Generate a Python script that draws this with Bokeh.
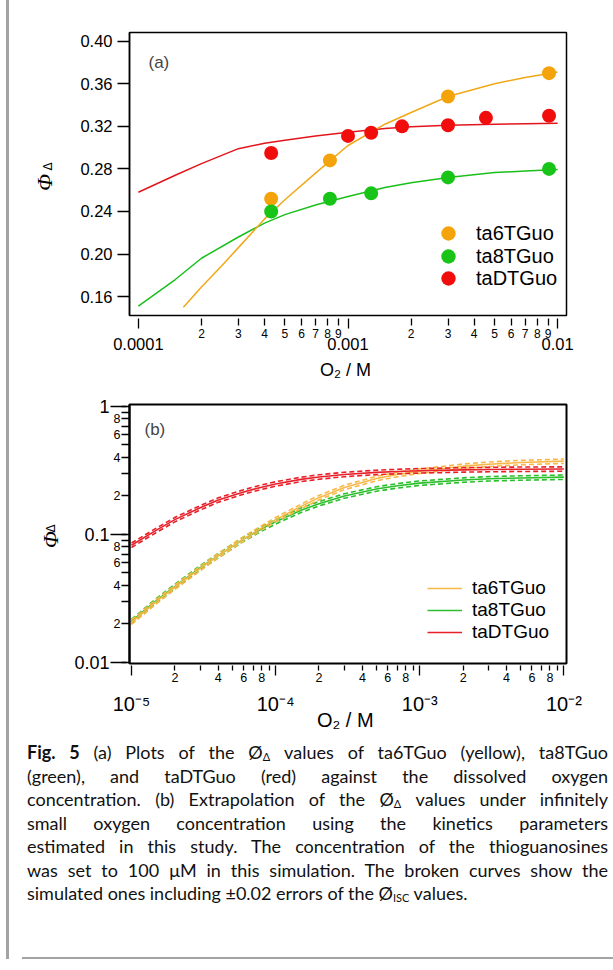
from bokeh.plotting import figure
from bokeh.models import (FixedTicker, LogAxis, LinearAxis, Label, Legend, LegendItem, Div,
                          CustomJSTickFormatter)
from bokeh.layouts import column, row
from bokeh.embed import file_html
from bokeh.resources import INLINE

# ---------------- data: panel (a) ----------------
ta6_x = [4.3e-4, 8.2e-4, 3.0e-3, 9.1e-3]
ta6_y = [0.252, 0.288, 0.348, 0.370]
ta8_x = [4.3e-4, 8.2e-4, 1.29e-3, 3.0e-3, 9.1e-3]
ta8_y = [0.240, 0.252, 0.257, 0.272, 0.280]
taD_x = [4.3e-4, 1.0e-3, 1.29e-3, 1.81e-3, 3.0e-3, 4.55e-3, 9.1e-3]
taD_y = [0.295, 0.311, 0.314, 0.320, 0.321, 0.328, 0.330]

fit_x_a = [1.0e-4, 1.5e-4, 2.0e-4, 3.0e-4, 4.0e-4, 5.0e-4, 7.0e-4, 1.0e-3, 1.5e-3, 2.0e-3, 3.0e-3, 5.0e-3, 7.0e-3, 1.0e-2]
fit_taD_a = [0.258, 0.274, 0.285, 0.299, 0.304, 0.307, 0.311, 0.3145, 0.318, 0.3195, 0.321, 0.322, 0.3225, 0.323]
fit_ta8_a = [0.151, 0.176, 0.196, 0.216, 0.229, 0.237, 0.246, 0.254, 0.2625, 0.267, 0.272, 0.2765, 0.278, 0.2795]
fit6_x_a = [1.64e-4, 2.0e-4, 2.5e-4, 3.0e-4, 4.0e-4, 5.0e-4, 7.0e-4, 1.0e-3, 1.5e-3, 2.0e-3, 3.0e-3, 5.0e-3, 7.0e-3, 1.0e-2]
fit_ta6_a = [0.150, 0.169, 0.189, 0.206, 0.233, 0.251, 0.276, 0.302, 0.322, 0.333, 0.348, 0.360, 0.366, 0.371]

# ---------------- data: panel (b) ----------------
x_b = [1e-5, 1.5e-5, 2e-5, 3e-5, 4e-5, 6e-5, 8e-5, 1e-4, 1.5e-4, 2e-4, 3e-4, 5e-4, 7e-4, 1e-3, 2e-3, 3e-3, 5e-3, 1e-2]
ta6_b = [0.0205, 0.030, 0.0385, 0.054, 0.068, 0.092, 0.112, 0.130, 0.165, 0.193, 0.232, 0.272, 0.293, 0.311, 0.340, 0.352, 0.363, 0.372]
ta6_b_hi = [0.0213, 0.0312, 0.0400, 0.0562, 0.0707, 0.0957, 0.1165, 0.1352, 0.1716, 0.2007, 0.2413, 0.2829, 0.3047, 0.3234, 0.3536, 0.3661, 0.3775, 0.3869]
ta6_b_lo = [0.0197, 0.0288, 0.0370, 0.0518, 0.0653, 0.0883, 0.1075, 0.1248, 0.1584, 0.1853, 0.2227, 0.2611, 0.2813, 0.2986, 0.3264, 0.3379, 0.3485, 0.3571]
ta8_b = [0.0208, 0.0305, 0.039, 0.0548, 0.068, 0.0915, 0.110, 0.125, 0.154, 0.173, 0.199, 0.2255, 0.239, 0.2505, 0.265, 0.271, 0.275, 0.279]
ta8_b_hi = [0.0216, 0.0317, 0.0406, 0.0570, 0.0707, 0.0952, 0.1144, 0.130, 0.160, 0.180, 0.207, 0.2345, 0.2486, 0.2605, 0.2756, 0.2818, 0.286, 0.290]
ta8_b_lo = [0.0200, 0.0293, 0.0374, 0.0526, 0.0653, 0.0878, 0.1056, 0.120, 0.1478, 0.1661, 0.1910, 0.2165, 0.2294, 0.2405, 0.2544, 0.2602, 0.264, 0.2678]
taD_b = [0.082, 0.108, 0.130, 0.161, 0.185, 0.214, 0.233, 0.247, 0.268, 0.280, 0.293, 0.304, 0.309, 0.313, 0.318, 0.320, 0.322, 0.323]
taD_b_hi = [0.0853, 0.1123, 0.1352, 0.1674, 0.1924, 0.2226, 0.2423, 0.2569, 0.2787, 0.2912, 0.3047, 0.3162, 0.3214, 0.3255, 0.3307, 0.3328, 0.3349, 0.3359]
taD_b_lo = [0.0787, 0.1037, 0.1248, 0.1546, 0.1776, 0.2054, 0.2237, 0.2371, 0.2573, 0.2688, 0.2813, 0.2918, 0.2966, 0.3005, 0.3053, 0.3072, 0.3091, 0.3101]

series_names = ["ta6TGuo", "ta8TGuo", "taDTGuo"]

# ---------------- ticks ----------------
a_y_ticks = [0.16, 0.20, 0.24, 0.28, 0.32, 0.36, 0.40]
a_y_labels = ["0.16", "0.20", "0.24", "0.28", "0.32", "0.36", "0.40"]
a_dec_ticks = [1e-4, 1e-3, 1e-2]
a_dec_labels = ["0.0001", "0.001", "0.01"]
a_minor_mult = [2, 3, 4, 5, 6, 7, 8, 9]
a_minor_labels = ["2", "3", "4", "5", "6", "7", "8", "9"]

b_x_dec_ticks = [1e-5, 1e-4, 1e-3, 1e-2]
b_x_dec_labels = ["10\u207b\u2075", "10\u207b\u2074", "10\u207b\u00b3", "10\u207b\u00b2"]
b_y_dec_ticks = [0.01, 0.1, 1.0]
b_y_dec_labels = ["0.01", "0.1", "1"]
b_minor_mult = [2, 3, 4, 5, 6, 7, 8, 9]
b_minor_labels = ["2", "", "4", "", "6", "", "8", ""]

y_title = "\u03a6"
y_title_sub = "\u0394"

FONT = "Liberation Sans"
NB = "\u00a0"
C6a, C8a, CDa = "#f5a30a", "#18c418", "#f20d0d"
L6a, L8a, LDa = "#f0a818", "#1bbf1b", "#e3151c"
C6b, C8b, CDb = "#f8b848", "#2cbf2c", "#e8202a"

LOOKUP = """
for (let i = 0; i < tks.length; i++) {
  if (Math.abs(tks[i] - tick) <= 1e-9 * Math.abs(tks[i])) { return labs[i]; }
}
return "";
"""


def fmt(tick_list, label_list):
    return CustomJSTickFormatter(args=dict(tks=list(tick_list), labs=list(label_list)), code=LOOKUP)


def minor_positions(decades, mults, labels):
    ticks, labs = [], []
    for d in decades:
        for m, lab in zip(mults, labels):
            ticks.append(m * d)
            labs.append(lab)
    return ticks, labs


def base_style(p, lw):
    p.grid.visible = False
    p.outline_line_color = "black"
    p.outline_line_width = lw
    p.outline_line_alpha = 1.0
    p.background_fill_color = "white"
    p.border_fill_color = "white"


def plain_axis(ax, size="1px"):
    ax.axis_line_color = None
    ax.major_tick_line_color = "black"
    ax.major_tick_line_width = 1.3
    ax.minor_tick_line_color = "black"
    ax.minor_tick_line_width = 1.3
    ax.major_label_text_font = FONT
    ax.major_label_text_font_size = size
    ax.major_label_text_color = "black"
    ax.axis_label_text_font = FONT
    ax.axis_label_text_font_style = "normal"
    ax.axis_label_text_color = "black"


def label_axis(ticks, labels, size, standoff, cls=LogAxis):
    ax = cls(ticker=FixedTicker(ticks=ticks, minor_ticks=[]), formatter=fmt(ticks, labels))
    plain_axis(ax, size)
    ax.major_tick_line_color = None
    ax.minor_tick_line_color = None
    ax.major_tick_in = 0
    ax.major_tick_out = 0
    ax.minor_tick_in = 0
    ax.minor_tick_out = 0
    ax.major_label_standoff = standoff
    return ax


def title_axis(text, font, size, style, standoff, cls):
    ax = label_axis([], [], "1px", 0, cls)
    ax.axis_label = text
    ax.axis_label_text_font = font
    ax.axis_label_text_font_size = size
    ax.axis_label_text_font_style = style
    ax.axis_label_standoff = standoff
    return ax


# ======================= panel (a) =======================
pa = figure(width=603, height=388, x_axis_type="log",
            x_range=(10 ** -4.0423, 10 ** -1.9577), y_range=(0.1422, 0.4082),
            output_backend="svg", toolbar_location=None,
            min_border_left=120, min_border_right=39, min_border_top=32, min_border_bottom=73)
base_style(pa, 1.5)

a_min_t, a_min_l = minor_positions(a_dec_ticks[:-1], a_minor_mult, a_minor_labels)

xa1 = pa.xaxis[0]
xa1.ticker = FixedTicker(ticks=a_dec_ticks, minor_ticks=a_min_t)
xa1.formatter = fmt([], [])
plain_axis(xa1)
xa1.major_tick_in = -3
xa1.major_tick_out = 13
xa1.minor_tick_in = -3
xa1.minor_tick_out = 10
xa1.major_label_standoff = 0

xa2 = label_axis(a_min_t, a_min_l, "12px", 0)
pa.add_layout(xa2, "below")
xa3 = label_axis(a_dec_ticks, a_dec_labels, "16.5px", -3)
xa3.axis_label = "O\u2082 /  M"
xa3.axis_label_text_font_size = "18px"
xa3.axis_label_standoff = 7
pa.add_layout(xa3, "below")

ya = pa.yaxis[0]
ya.ticker = FixedTicker(ticks=a_y_ticks, minor_ticks=[])
ya.formatter = fmt(a_y_ticks, a_y_labels)
plain_axis(ya, "16.5px")
ya.axis_line_color = "black"
ya.axis_line_width = 1.5
ya.major_tick_in = 0
ya.major_tick_out = 12
ya.minor_tick_out = 0
ya.major_label_standoff = 5
ya.axis_label = None

pa.add_layout(title_axis(NB * 4 + y_title_sub, "DejaVu Sans", "12px", "normal", 23, LinearAxis), "left")
pa.add_layout(title_axis(y_title + NB * 3, "Liberation Serif", "22px", "italic", -19, LinearAxis), "left")

pa.line(fit_x_a, fit_taD_a, color=LDa, line_width=1.5)
pa.line(fit_x_a, fit_ta8_a, color=L8a, line_width=1.5)
pa.line(fit6_x_a, fit_ta6_a, color=L6a, line_width=1.5)
r6 = pa.scatter(ta6_x, ta6_y, size=14, color=C6a, line_color=None)
r8 = pa.scatter(ta8_x, ta8_y, size=14, color=C8a, line_color=None)
rD = pa.scatter(taD_x, taD_y, size=14, color=CDa, line_color=None)

for rend, name, yoff in zip([r6, r8, rD], series_names, [64, 41, 19]):
    lg = Legend(items=[LegendItem(label=name, renderers=[rend])], location=(301, yoff),
                glyph_width=36, glyph_height=36, label_standoff=10, padding=0, margin=0,
                border_line_alpha=0, background_fill_alpha=0,
                label_text_font=FONT, label_text_font_size="20px", label_text_color="black")
    pa.add_layout(lg)

pa.add_layout(Label(x=19, y=253, x_units="screen", y_units="screen", text="(a)",
                    text_font=FONT, text_font_size="17px", text_baseline="middle", text_align="left"))

# ======================= panel (b) =======================
pb = figure(width=603, height=346, x_axis_type="log", y_axis_type="log",
            x_range=(10 ** -5.0137, 10 ** -1.9816), y_range=(10 ** -2.0102, 10 ** 0.0133),
            output_backend="svg", toolbar_location=None,
            min_border_left=113, min_border_right=46, min_border_top=16, min_border_bottom=71)
base_style(pb, 2)

bx_min_t, bx_min_l = minor_positions(b_x_dec_ticks[:-1], b_minor_mult, b_minor_labels)
by_min_t, by_min_l = minor_positions(b_y_dec_ticks[:-1], b_minor_mult, b_minor_labels)

xb1 = pb.xaxis[0]
xb1.ticker = FixedTicker(ticks=b_x_dec_ticks, minor_ticks=bx_min_t)
xb1.formatter = fmt([], [])
plain_axis(xb1)
xb1.major_tick_in = -2
xb1.major_tick_out = 12
xb1.minor_tick_in = -2
xb1.minor_tick_out = 7
xb1.major_label_standoff = 0

xb2 = label_axis(bx_min_t, bx_min_l, "12.5px", -3)
pb.add_layout(xb2, "below")
xb3 = label_axis(b_x_dec_ticks, b_x_dec_labels, "20px", 8)
xb3.axis_label = "O\u2082 /  M"
xb3.axis_label_text_font_size = "20px"
xb3.axis_label_standoff = -9
pb.add_layout(xb3, "below")

# inner y axis: short ticks at every position, labels on 2,4,6,8
yb1 = pb.yaxis[0]
yb_all = by_min_t + b_y_dec_ticks
yb_all_l = by_min_l + [""] * len(b_y_dec_ticks)
yb1.ticker = FixedTicker(ticks=yb_all, minor_ticks=[])
yb1.formatter = fmt(yb_all, yb_all_l)
plain_axis(yb1, "12.5px")
yb1.axis_line_color = "black"
yb1.axis_line_width = 2
yb1.major_tick_in = 0
yb1.major_tick_out = 8
yb1.minor_tick_in = 0
yb1.minor_tick_out = 0
yb1.major_label_standoff = 1

# decade labels, long decade ticks drawn inward
yb3 = label_axis(b_y_dec_ticks, b_y_dec_labels, "18px", 1)
yb3.major_tick_line_color = "black"
yb3.major_tick_line_width = 1.3
yb3.major_tick_in = 16
pb.add_layout(yb3, "left")
pb.add_layout(title_axis(NB * 3 + y_title_sub, "DejaVu Sans", "12px", "normal", 14, LogAxis), "left")
pb.add_layout(title_axis(y_title + NB * 2, "Liberation Serif", "22px", "italic", -22, LogAxis), "left")

rb = {}
for name, ys, hi, lo, col in [("ta8TGuo", ta8_b, ta8_b_hi, ta8_b_lo, C8b),
                              ("ta6TGuo", ta6_b, ta6_b_hi, ta6_b_lo, C6b),
                              ("taDTGuo", taD_b, taD_b_hi, taD_b_lo, CDb)]:
    pb.line(x_b, hi, color=col, line_width=1.6, line_dash="5 3")
    pb.line(x_b, lo, color=col, line_width=1.6, line_dash="5 3")
    rb[name] = pb.line(x_b, ys, color=col, line_width=1.6)

lgb = Legend(items=[LegendItem(label=n, renderers=[rb[n]]) for n in series_names],
             location=(298, 20), glyph_width=35, glyph_height=22, label_height=22, spacing=0,
             label_standoff=10, padding=0, margin=0, border_line_alpha=0, background_fill_alpha=0,
             label_text_font=FONT, label_text_font_size="19px", label_text_color="black")
pb.add_layout(lgb)

pb.add_layout(Label(x=15, y=234, x_units="screen", y_units="screen", text="(b)",
                    text_font=FONT, text_font_size="17px", text_baseline="middle", text_align="left"))

# ======================= caption =======================
cap_lines = [
    '<b>Fig.&nbsp;5</b> (a) Plots of the \u00d8<sub>\u0394</sub> values of ta6TGuo (yellow), ta8TGuo',
    '(green), and taDTGuo (red) against the dissolved oxygen',
    'concentration. (b) Extrapolation of the \u00d8<sub>\u0394</sub> values under infinitely',
    'small oxygen concentration using the kinetics parameters',
    'estimated in this study. The concentration of the thioguanosines',
    'was set to 100 \u03bcM in this simulation. The broken curves show the',
]
cap_last = 'simulated ones including \u00b10.02 errors of the \u00d8<sub>ISC</sub> values.'

sub_css = "font-size:11px;line-height:0;vertical-align:-2px;"


def fix_sub(s):
    return s.replace("<sub>", '<span style="%s">' % sub_css).replace("</sub>", "</span>")


html = ['<div style="box-sizing:border-box;font-family:Lato, sans-serif;font-size:18px;'
        'line-height:23.5px;color:#111;padding:7px 0 0 18px;width:599px;">']
for ln in cap_lines:
    html.append('<div style="text-align:justify;text-align-last:justify;">%s</div>' % fix_sub(ln))
html.append('<div style="text-align:left;">%s</div>' % fix_sub(cap_last))
html.append('</div>')
caption = Div(text="".join(html), width=603, height=223, margin=(0, 0, 0, 0))

bottom_rule = Div(text="", width=603, height=2, margin=(0, 0, 0, 13),
                  styles={"background-color": "#a3a3a3"})
left_bar = Div(text="", width=3, height=959, margin=(0, 0, 0, 0),
               styles={"background-color": "#a3a3a3"})

layout = row(left_bar, column(pa, pb, caption, bottom_rule, spacing=0), spacing=0,
             margin=(0, 0, 0, 6))

open("out.html", "w").write(file_html(layout, INLINE))
